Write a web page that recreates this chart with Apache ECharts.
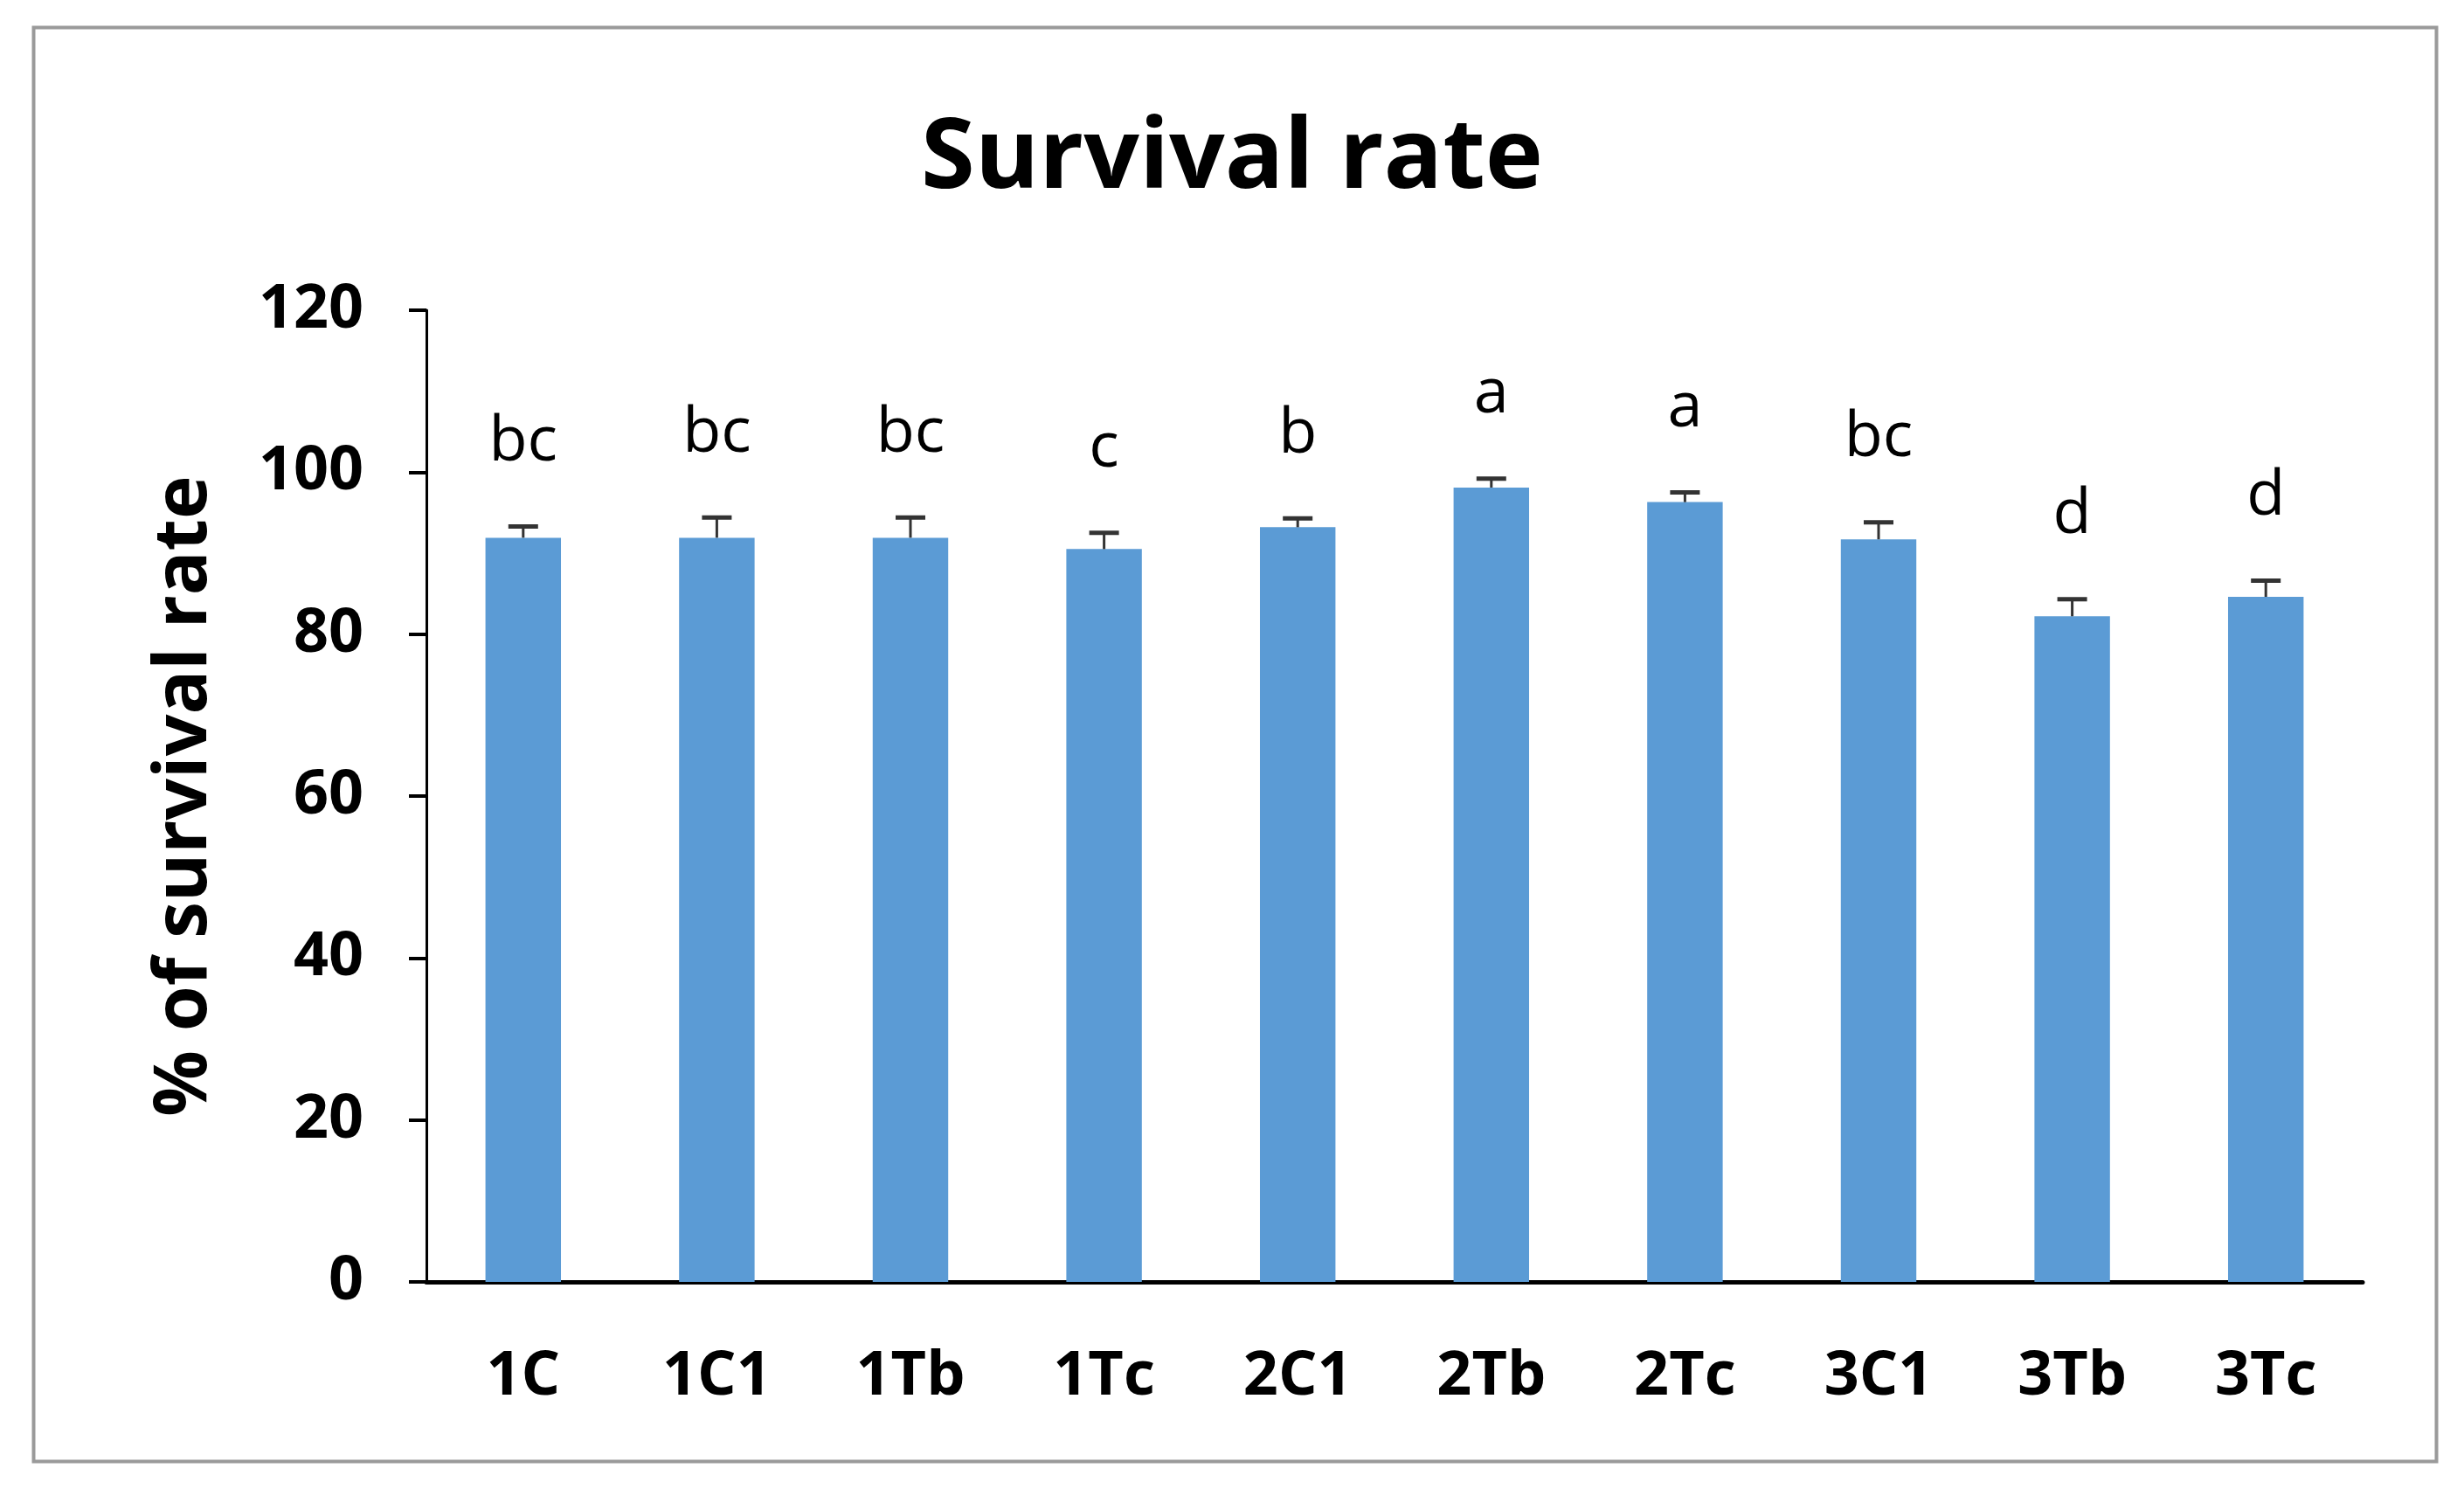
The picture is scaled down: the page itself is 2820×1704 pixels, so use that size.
<!DOCTYPE html>
<html><head><meta charset="utf-8">
<script src="https://cdn.jsdelivr.net/npm/echarts@6/dist/echarts.min.js"></script>
<style>html,body{margin:0;padding:0;background:#fff}#c{width:2820px;height:1704px}</style>
</head><body><div id="c"></div>
<script>
const categories = ['1C','1C1','1Tb','1Tc','2C1','2Tb','2Tc','3C1','3Tb','3Tc'];
const survival = [91.9, 91.9, 91.9, 90.5, 93.2, 98.1, 96.3, 91.7, 82.2, 84.6];
const errors = [1.4, 2.5, 2.5, 2.0, 1.1, 1.1, 1.2, 2.1, 2.1, 2.0];
const letters = ['bc','bc','bc','c','b','a','a','bc','d','d'];

const FONT = '"Open Sans", "Noto Sans", sans-serif';
const chart = echarts.init(document.getElementById('c'), null, {renderer:'canvas'});
chart.setOption({
  backgroundColor: '#fff',
  animation: false,
  title: {
    text: 'Survival rate', left: 'center', top: 122,
    textStyle: {fontFamily: FONT, fontSize: 112, fontWeight: 'bold', color: '#000'}
  },
  graphic: [{
    type: 'rect', left: 36, top: 29, z: -1,
    shape: {width: 2750, height: 1641},
    style: {fill: 'none', stroke: '#9a9a9a', lineWidth: 4}
  }],
  grid: {left: 488, right: 116, top: 355, bottom: 237},
  xAxis: {
    type: 'category', data: categories,
    axisLine: {lineStyle: {color: '#000', width: 5}},
    axisTick: {show: false},
    axisLabel: {fontFamily: FONT, fontSize: 70, fontWeight: 'bold', color: '#000', margin: 74}
  },
  yAxis: {
    type: 'value', min: 0, max: 120, interval: 20,
    name: '% of survival rate', nameLocation: 'middle', nameGap: 234, nameRotate: 90,
    nameTextStyle: {fontFamily: FONT, fontSize: 84, fontWeight: 'bold', color: '#000'},
    axisLine: {show: true, lineStyle: {color: '#000', width: 3}},
    axisTick: {show: true, length: 20, lineStyle: {color: '#000', width: 4}},
    splitLine: {show: false},
    axisLabel: {fontFamily: FONT, fontSize: 70, fontWeight: 'bold', color: '#000', margin: 72}
  },
  series: [{
    type: 'bar', data: survival, barWidth: '39%',
    itemStyle: {color: '#5B9BD5'}
  }, {
    type: 'custom', z: 5,
    data: categories.map((c, i) => [i, survival[i], errors[i]]),
    renderItem: function (params, api) {
      const i = api.value(0);
      const top = api.coord([i, api.value(1) + api.value(2)]);
      const base = api.coord([i, api.value(1)]);
      const capHalf = 17;
      return {type: 'group', children: [
        {type: 'line', shape: {x1: top[0], y1: base[1], x2: top[0], y2: top[1]}, style: {stroke: '#333', lineWidth: 3}},
        {type: 'line', shape: {x1: top[0] - capHalf, y1: top[1], x2: top[0] + capHalf, y2: top[1]}, style: {stroke: '#333', lineWidth: 5}},
        {type: 'text', x: top[0], y: top[1] - 60,
         style: {text: letters[params.dataIndex], fill: '#000', font: '72px ' + FONT, align: 'center', verticalAlign: 'bottom'}}
      ]};
    }
  }]
});
</script></body></html>
